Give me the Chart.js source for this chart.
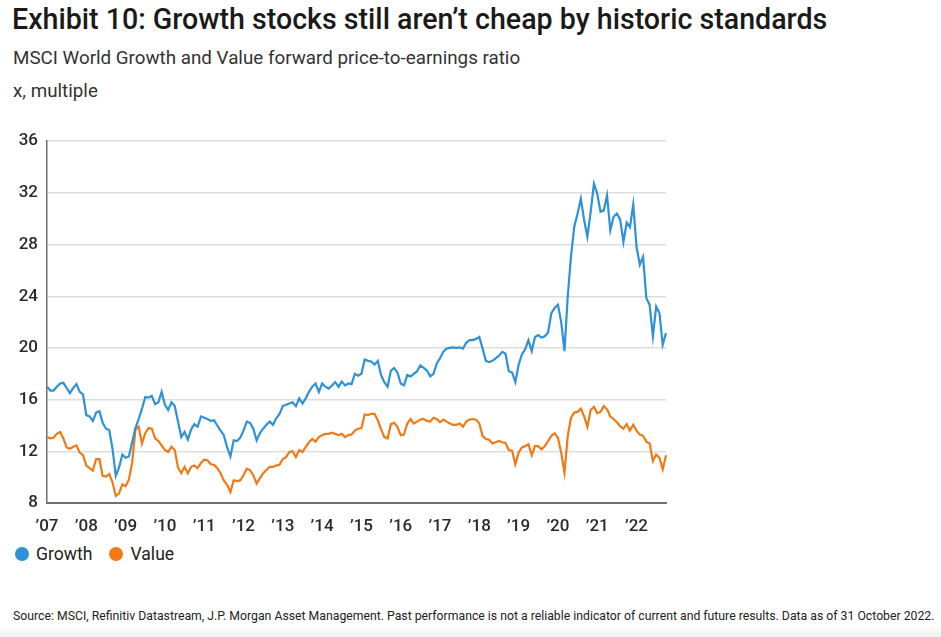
<!DOCTYPE html>
<html>
<head>
<meta charset="utf-8">
<script src="https://cdn.jsdelivr.net/npm/chart.js@4.4.0/dist/chart.umd.min.js"></script>
<style>
  html, body { margin: 0; padding: 0; background: #fff; }
  body { width: 941px; height: 637px; position: relative; overflow: hidden; font-family: Roboto, "Noto Sans", sans-serif; color: #1a1a1a; }
  .title { position: absolute; left: 12px; top: 2px; font-size: 28.6px; font-weight: 500; letter-spacing: 0; white-space: nowrap; }
  .sub { position: absolute; left: 13px; font-size: 18.8px; color: #333; white-space: nowrap; }
  #chartBox { position: absolute; left: 0; top: 122px; width: 680px; height: 420px; }
  .legend { position: absolute; left: 15px; top: 544px; font-size: 17.6px; color: #222; display: flex; align-items: center; }
  .legend .dot { width: 14px; height: 14px; border-radius: 50%; display: inline-block; margin-right: 7px; }
  .legend .item { display: flex; align-items: center; margin-right: 17px; }
  .footer { position: absolute; left: 13px; top: 609px; font-size: 12.25px; color: #222; white-space: nowrap; }
  .strip { position: absolute; left: 0; right: 0; bottom: 0; height: 9px; background: linear-gradient(#fbfbfb, #f2f2f2); }
</style>
</head>
<body>
<div class="title">Exhibit 10: Growth stocks still aren’t cheap by historic standards</div>
<div class="sub" style="top:47px">MSCI World Growth and Value forward price-to-earnings ratio</div>
<div class="sub" style="top:80px">x, multiple</div>
<div id="chartBox"><canvas id="peChart" width="680" height="420"></canvas></div>
<div class="legend">
  <span class="item"><span class="dot" style="background:#2f91d6"></span>Growth</span>
  <span class="item"><span class="dot" style="background:#f07a16"></span>Value</span>
</div>
<div class="footer">Source: MSCI, Refinitiv Datastream, J.P. Morgan Asset Management. Past performance is not a reliable indicator of current and future results. Data as of 31 October 2022.</div>
<div class="strip"></div>

<script>
// years shown on the x axis (one label per January)
const yearLabels = ['’07', '’08', '’09', '’10', '’11', '’12', '’13', '’14',
  '’15', '’16', '’17', '’18', '’19', '’20', '’21', '’22'];
const yTickValues = [8, 12, 16, 20, 24, 28, 32, 36];

// monthly, Jan 2007 - Oct 2022
const growth = [
  17.0, 16.7, 16.7, 17.0, 17.25, 17.3, 16.9, 16.5, 16.9, 17.2, 16.6, 16.4,   // 2007
  14.8, 14.7, 14.35, 15.0, 15.1, 14.2, 13.75, 13.65, 12.2, 10.1, 10.75, 11.75, // 2008
  11.5, 11.6, 12.7, 13.8, 14.5, 15.3, 16.2, 16.15, 16.3, 15.65, 15.8, 16.6,   // 2009
  15.6, 15.2, 15.8, 15.5, 14.3, 13.1, 13.5, 12.9, 13.7, 14.1, 13.9, 14.7,     // 2010
  14.6, 14.5, 14.35, 14.4, 14.0, 13.6, 13.25, 12.3, 11.6, 12.85, 12.8, 13.05, // 2011
  13.6, 14.3, 14.2, 13.75, 12.85, 13.4, 13.75, 14.05, 14.3, 14.05, 14.55, 14.9, // 2012
  15.5, 15.6, 15.7, 15.8, 15.5, 16.1, 15.7, 16.1, 16.6, 17.0, 17.25, 16.6,    // 2013
  17.25, 17.0, 16.85, 17.1, 17.35, 17.0, 17.4, 17.1, 17.25, 17.2, 18.0, 17.85, // 2014
  18.0, 19.1, 19.0, 18.95, 18.7, 19.0, 17.9, 17.35, 17.0, 18.25, 18.45, 18.1,  // 2015
  17.25, 17.1, 17.9, 17.8, 18.0, 18.2, 18.65, 18.45, 18.25, 17.8, 18.0, 18.8,  // 2016
  19.2, 19.7, 19.95, 20.0, 20.05, 20.0, 20.05, 19.95, 20.4, 20.6, 20.6, 20.7,  // 2017
  20.85, 19.95, 19.0, 18.9, 19.0, 19.2, 19.4, 19.7, 19.55, 18.2, 18.1, 17.35,  // 2018
  18.7, 19.5, 19.9, 20.6, 19.75, 20.85, 21.0, 20.8, 20.9, 21.2, 22.7, 23.1,    // 2019
  23.35, 22.0, 19.75, 24.0, 27.1, 29.4, 30.4, 31.55, 29.9, 28.6, 30.55, 32.7,  // 2020
  31.95, 30.55, 30.65, 31.8, 29.1, 30.15, 30.4, 29.95, 28.2, 29.7, 29.35, 31.1, // 2021
  27.85, 26.45, 27.05, 23.85, 23.35, 20.9, 23.2, 22.7, 20.25, 21.15            // 2022
];

const value = [
  13.1, 13.0, 13.05, 13.35, 13.5, 13.0, 12.3, 12.2, 12.35, 12.45, 11.9, 11.7,  // 2007
  10.9, 10.7, 10.5, 11.4, 11.4, 10.1, 10.05, 10.25, 9.6, 8.55, 8.75, 9.45,     // 2008
  9.3, 9.8, 11.1, 13.7, 13.9, 12.6, 13.4, 13.8, 13.75, 13.0, 12.8, 12.45,      // 2009
  12.1, 11.95, 12.35, 12.1, 10.75, 10.3, 10.8, 10.3, 10.8, 10.9, 10.7, 11.1,   // 2010
  11.35, 11.3, 11.0, 10.95, 10.7, 10.3, 9.75, 9.4, 8.85, 9.75, 9.7, 9.75,      // 2011
  10.15, 10.65, 10.55, 10.15, 9.5, 9.9, 10.3, 10.55, 10.8, 10.8, 10.9, 10.95,  // 2012
  11.4, 11.55, 11.95, 12.0, 11.55, 12.1, 11.95, 12.35, 12.7, 12.95, 12.75, 13.1, // 2013
  13.25, 13.35, 13.35, 13.45, 13.35, 13.25, 13.35, 13.1, 13.25, 13.3, 13.6, 13.75, // 2014
  13.8, 14.85, 14.8, 14.9, 14.9, 14.4, 13.7, 13.1, 13.0, 14.1, 14.2, 13.9,     // 2015
  13.25, 13.3, 14.15, 14.5, 14.15, 14.3, 14.45, 14.5, 14.35, 14.3, 14.6, 14.5, // 2016
  14.25, 14.45, 14.3, 14.15, 14.05, 14.05, 14.15, 13.9, 14.3, 14.45, 14.5, 14.45, // 2017
  14.15, 13.2, 12.95, 12.9, 12.6, 12.7, 12.8, 12.7, 12.65, 12.1, 12.05, 11.0,  // 2018
  11.9, 12.3, 12.4, 12.55, 11.7, 12.4, 12.4, 12.15, 12.4, 12.8, 13.2, 13.4,    // 2019
  13.05, 11.9, 10.35, 13.2, 14.6, 15.0, 15.05, 15.3, 14.7, 13.9, 15.2, 15.45,  // 2020
  14.95, 15.05, 15.5, 15.25, 14.7, 14.5, 14.25, 13.95, 13.75, 14.1, 13.6, 14.05, // 2021
  13.6, 13.3, 13.2, 12.75, 12.6, 11.25, 11.75, 11.5, 10.6, 11.7                // 2022
];

// one category per month, the year label sits on January
const months = growth.map((_, i) => yearLabels[Math.floor(i / 12)] + '-' + ((i % 12) + 1));

const GROWTH_COLOR = '#2f91d6';
const VALUE_COLOR = '#f07a16';
const tickFont = { family: 'Roboto, "Noto Sans", sans-serif', size: 17, weight: '500' };

new Chart(document.getElementById('peChart').getContext('2d'), {
  type: 'line',
  data: {
    labels: months,
    datasets: [
      { label: 'Growth', data: growth, borderColor: GROWTH_COLOR, borderWidth: 2.2, pointRadius: 0, tension: 0 },
      { label: 'Value', data: value, borderColor: VALUE_COLOR, borderWidth: 2.2, pointRadius: 0, tension: 0 },
    ],
  },
  options: {
    responsive: false,
    animation: false,
    layout: { padding: { top: 19, right: 14, left: 0, bottom: 0 } },
    plugins: { legend: { display: false }, tooltip: { enabled: false } },
    scales: {
      x: {
        type: 'category',
        offset: false,
        grid: { display: false },
        border: { display: true, color: '#707070', width: 2 },
        ticks: {
          autoSkip: false,
          maxRotation: 0,
          padding: 6,
          color: '#2a2a2a',
          font: tickFont,
          callback: (val, idx) => (idx % 12 === 0 ? yearLabels[idx / 12] : null),
        },
        afterFit: (scale) => { scale.height = 39; },
      },
      y: {
        min: 8,
        max: 36,
        afterBuildTicks: (scale) => { scale.ticks = yTickValues.map((v) => ({ value: v })); },
        grid: { color: '#dddddd', lineWidth: 1.5, drawTicks: false },
        border: { display: true, color: '#707070', width: 1.5 },
        ticks: { padding: 9, color: '#2a2a2a', font: tickFont },
        afterFit: (scale) => { scale.width = 47; },
      },
    },
  },
});
</script>
</body>
</html>
